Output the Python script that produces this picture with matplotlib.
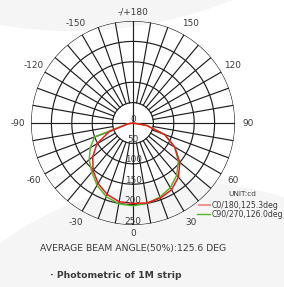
import numpy as np
import matplotlib.pyplot as plt
from matplotlib.patches import Circle

# ======================
# data (cd), sampled every 10 deg from nadir
# ======================
angles = [0, 10, 20, 30, 40, 50, 60, 70, 80, 90]
c0 = [200, 199, 196, 189, 173, 150, 118, 83, 33, 0]      # red, right side
c180 = [197, 196, 186, 171, 152, 129, 102, 62, 12, 0]    # red, left side
c90 = [203, 200, 193, 183, 167, 145, 118, 82, 35, 0]     # green, right side
c270 = [203, 201, 192, 176, 157, 140, 121, 100, 15, 0]   # green, left side

ring_values = [50, 100, 150, 200, 250]
ring_labels = ["0", "50", "100", "150", "200", "250"]
angle_ticks = [0, 30, 60, 90, 120, 150, 180, -150, -120, -90, -60, -30]
angle_labels = ["0", "30", "60", "90", "120", "150", "-/+180",
                "-150", "-120", "-90", "-60", "-30"]

legend_names = ["C0/180,125.3deg", "C90/270,126.0deg"]
unit_text = "UNIT:cd"
beam_text = "AVERAGE BEAM ANGLE(50%):125.6 DEG"
caption = "· Photometric of 1M strip"

TXT = "#3a3a3a"
RED = "#ee1c1c"
GREEN = "#55b630"
GRID = "#1e1e1e"
FONT = "DejaVu Sans"

fig = plt.figure(figsize=(2.84, 2.87), dpi=100)

# background: white with two faint grey swoops
bg = fig.add_axes([0, 0, 1, 1], zorder=-5)
bg.set_xlim(0, 284)
bg.set_ylim(287, 0)
bg.axis("off")
bg.add_patch(Circle((72, -400), 431, color="#f5f5f5", lw=0))
bg.add_patch(Circle((187, 498), 316, color="#f5f5f5", lw=0))

# ======================
# polar chart
# ======================
ax = fig.add_axes([31 / 284, 1 - 225 / 287, 204 / 284, 204 / 287],
                  projection="polar")
ax.set_theta_zero_location("S")
ax.set_theta_direction(1)
ax.set_ylim(0, 250)
ax.axis("off")
ax.patch.set_alpha(0)

full = np.linspace(0, 2 * np.pi, 361)
for r in ring_values:
    ax.plot(full, np.full_like(full, r), color=GRID, lw=0.85, zorder=1)

# spokes every 10 deg from the inner ring out
for a in range(0, 360, 10):
    r0 = 0 if a % 90 == 0 else ring_values[0]
    ax.plot([np.deg2rad(a)] * 2, [r0, 250], color=GRID, lw=0.85, zorder=1)

# curves: left side uses negative angles
th = np.array(angles, dtype=float)
th_full = np.deg2rad(np.concatenate([-th[::-1], th[1:]]))
red_r = np.concatenate([np.array(c180)[::-1], np.array(c0)[1:]])
green_r = np.concatenate([np.array(c270)[::-1], np.array(c90)[1:]])
ax.plot(th_full, green_r, color=GREEN, lw=1.1, zorder=3)
ax.plot(th_full, red_r, color=RED, lw=1.1, zorder=4)

# ring labels along the nadir axis
for i, lab in enumerate(ring_labels):
    ax.annotate(lab, xy=(0, i * 50), xytext=(0, 4), textcoords="offset pixels",
                ha="center", va="center", fontsize=6.4, color=TXT,
                family=FONT, zorder=5)

# angle labels round the outside
for a, lab in zip(angle_ticks, angle_labels):
    r = 272 if a in (0, 180) else 282
    ax.text(np.deg2rad(a), r, lab, ha="center", va="center", fontsize=6.4,
            color=TXT, family=FONT, clip_on=False)

# ======================
# legend / notes
# ======================
bg.text(228, 194, unit_text, ha="left", va="center", fontsize=5.3,
        color=TXT, family=FONT)
bg.plot([199, 210], [205, 205], color="#f28a8a", lw=1.3)
bg.plot([197, 210], [214, 214], color=GREEN, lw=1.0)
bg.text(212, 205, legend_names[0], ha="left", va="center", fontsize=5.6,
        color=TXT, family=FONT)
bg.text(212, 214.5, legend_names[1], ha="left", va="center", fontsize=5.6,
        color=TXT, family=FONT)

bg.text(133, 249, beam_text, ha="center", va="center", fontsize=6.7,
        color=TXT, family=FONT)
bg.text(50, 276, caption, ha="left", va="center", fontsize=6.7,
        color=TXT, family=FONT, fontweight="bold")

fig.savefig("out.png", dpi=100)
